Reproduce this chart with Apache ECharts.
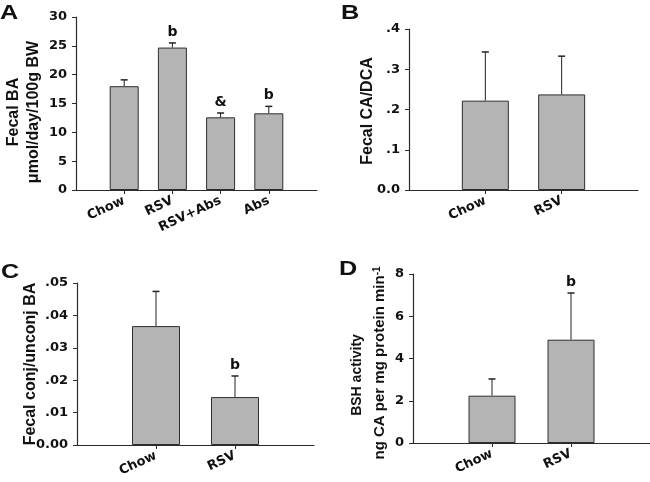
<!DOCTYPE html>
<html><head><meta charset="utf-8">
<script src="https://cdn.jsdelivr.net/npm/echarts@6/dist/echarts.min.js"></script>
<style>html,body{margin:0;padding:0;background:#fff}#c{width:650px;height:482px}</style>
</head><body><div id="c"></div>
<script>
// Panel A
var catsA = ['Chow', 'RSV', 'RSV+Abs', 'Abs'];
var meanA = [18.0, 24.7, 12.6, 13.3];
var errA = [1.1, 0.8, 0.75, 1.2];
var sigA = ['', 'b', '&', 'b'];
var ticksA = [0, 30, 5];
// Panel B
var catsB = ['Chow', 'RSV'];
var meanB = [0.222, 0.2375];
var errB = [0.121, 0.095];
var sigB = ['', ''];
var ticksB = [0, 0.4, 0.1];
// Panel C
var catsC = ['Chow', 'RSV'];
var meanC = [0.0367, 0.0148];
var errC = [0.0107, 0.0065];
var sigC = ['', 'b'];
var ticksC = [0, 0.05, 0.01];
// Panel D
var catsD = ['Chow', 'RSV'];
var meanD = [2.24, 4.89];
var errD = [0.79, 2.21];
var sigD = ['', 'b'];
var ticksD = [0, 8, 2];

var FONT = 'Liberation Sans, Arial, sans-serif';
var WFONT = 'DejaVu Sans, sans-serif';
var AXC = '#2a2a2a';
var BARC = '#b4b4b4';

var panels = [
  {cats: catsA, mean: meanA, err: errA, sig: sigA, ticks: ticksA, grid: {left: 76, top: 17, width: 241, height: 173}, bw: 29,
   fmt: function (v) { return String(v); }},
  {cats: catsB, mean: meanB, err: errB, sig: sigB, ticks: ticksB, grid: {left: 409, top: 29, width: 229, height: 161}, bw: 47,
   fmt: function (v) { return v === 0 ? '0.0' : ('.' + Math.round(v * 10)); }},
  {cats: catsC, mean: meanC, err: errC, sig: sigC, ticks: ticksC, grid: {left: 77, top: 283, width: 237, height: 162}, bw: 48,
   fmt: function (v) { return v === 0 ? '0.00' : ('.0' + Math.round(v * 100)); }},
  {cats: catsD, mean: meanD, err: errD, sig: sigD, ticks: ticksD, grid: {left: 413, top: 274, width: 237, height: 169}, bw: 47,
   fmt: function (v) { return String(v); }}
];

var grids = [], xAxes = [], yAxes = [], series = [];
panels.forEach(function (p, i) {
  grids.push(Object.assign({containLabel: false}, p.grid));
  var padded = [''].concat(p.cats).concat(['']);
  xAxes.push({
    type: 'category', gridIndex: i, data: padded, boundaryGap: false,
    axisLine: {lineStyle: {color: AXC, width: 1.2}},
    axisTick: {show: true, length: 4, lineStyle: {color: AXC},
      interval: function (idx, val) { return val !== ''; }},
    axisLabel: {rotate: 25, margin: 10, color: '#111', fontFamily: WFONT, fontWeight: 'bold', fontSize: 13,
      interval: function (idx, val) { return val !== ''; }},
    splitLine: {show: false}
  });
  yAxes.push({
    type: 'value', gridIndex: i, min: p.ticks[0], max: p.ticks[1], interval: p.ticks[2],
    axisLine: {show: true, lineStyle: {color: AXC, width: 1.2}},
    axisTick: {show: true, length: 4, lineStyle: {color: AXC}},
    axisLabel: {color: '#111', fontFamily: WFONT, fontWeight: 'bold', fontSize: 13, margin: 9, formatter: p.fmt},
    splitLine: {show: false}
  });
  series.push({
    type: 'bar', xAxisIndex: i, yAxisIndex: i, barWidth: p.bw,
    data: p.mean.map(function (m, k) { return [k + 1, m]; }),
    itemStyle: {color: BARC, borderColor: '#2e2e2e', borderWidth: 1},
    silent: true, animation: false
  });
  series.push({
    type: 'custom', xAxisIndex: i, yAxisIndex: i, silent: true, animation: false, z: 5,
    data: p.mean.map(function (m, k) { return [k + 1, m, m + p.err[k]]; }),
    renderItem: function (params, api) {
      var x = api.value(0), v = api.value(1), t = api.value(2);
      var a = api.coord([x, v]), b = api.coord([x, t]);
      var ch = [
        {type: 'line', shape: {x1: a[0], y1: a[1], x2: b[0], y2: b[1]}, style: {stroke: '#222', lineWidth: 1}},
        {type: 'line', shape: {x1: b[0] - 3.5, y1: b[1], x2: b[0] + 3.5, y2: b[1]}, style: {stroke: '#222', lineWidth: 1.5}}
      ];
      var s = p.sig[params.dataIndex];
      if (s) {
        ch.push({type: 'text', x: b[0], y: b[1] - 11,
          style: {text: s, fill: '#111', font: 'bold 14px ' + WFONT, textAlign: 'center', textVerticalAlign: 'middle'}});
      }
      return {type: 'group', children: ch};
    }
  });
});

function vtext(x, y, text, size, extra) {
  var st = {text: text, fill: '#111', font: 'bold ' + size + 'px ' + FONT, textAlign: 'center', textVerticalAlign: 'middle'};
  if (extra) Object.assign(st, extra);
  return {type: 'text', x: x, y: y, rotation: Math.PI / 2, style: st, silent: true};
}
function ptext(x, y, t) {
  return {type: 'text', x: x, y: y, scaleX: 1.2, style: {text: t, fill: '#111', font: 'bold 21px ' + FONT, textAlign: 'left', textVerticalAlign: 'top'}, silent: true};
}

var graphics = [
  ptext(0, 3, 'A'), ptext(341, 3, 'B'), ptext(1, 262, 'C'), ptext(339, 259, 'D'),
  vtext(14, 112, 'Fecal BA', 16),
  vtext(34, 112, 'μmol/day/100g BW', 16),
  vtext(368, 111, 'Fecal CA/DCA', 16),
  vtext(31, 364, 'Fecal conj/unconj BA', 16),
  vtext(357, 375, 'BSH activity', 14),
  vtext(380, 363, 'ng CA per mg protein min{sup|-1}', 15, {rich: {sup: {font: 'bold 10px ' + FONT, fill: '#111', verticalAlign: 'top', padding: [0, 0, 6, 0]}}})
];

var chart = echarts.init(document.getElementById('c'), null, {renderer: 'canvas'});
chart.setOption({
  animation: false,
  grid: grids, xAxis: xAxes, yAxis: yAxes, series: series,
  graphic: graphics
});
</script></body></html>
